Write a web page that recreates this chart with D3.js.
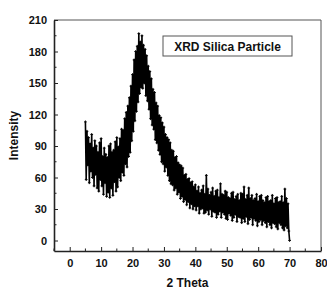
<!DOCTYPE html>
<html>
<head>
<meta charset="utf-8">
<script src="https://cdn.jsdelivr.net/npm/d3@7"></script>
<style>
  body { margin: 0; background: #fff; }
  text { font-family: Arial, 'Liberation Sans', sans-serif; font-weight: bold; fill: #111; }
</style>
</head>
<body>
<svg id="chart" width="327" height="291"></svg>
<script>
// measurement grid, 2 theta in degrees
const thetaStart = 5, thetaStep = 0.25

// intensity, 4 readings per degree
const intensity = [
  113, 58, 104, 72,   // 5
  98, 55, 92, 66,     // 6
  101, 60, 88, 52,    // 7
  95, 63, 90, 50,     // 8
  84, 47, 93, 58,     // 9
  97, 52, 80, 44,     // 10
  88, 55, 82, 42,     // 11
  79, 46, 90, 41,     // 12
  92, 50, 84, 43,     // 13
  86, 56, 94, 47,     // 14
  98, 51, 89, 60,     // 15
  97, 57, 106, 65,    // 16
  105, 62, 116, 73,   // 17
  122, 70, 128, 80,   // 18
  136, 84, 147, 95,   // 19
  158, 104, 172, 114, // 20
  180, 123, 185, 132, // 21
  197, 140, 189, 146, // 22
  195, 145, 186, 150, // 23
  182, 138, 176, 133, // 24
  166, 125, 161, 116, // 25
  154, 110, 144, 106, // 26
  141, 96, 131, 93,   // 27
  128, 86, 119, 82,   // 28
  117, 75, 112, 73,   // 29
  108, 66, 101, 70,   // 30
  98, 62, 96, 57,     // 31
  93, 54, 86, 53,     // 32
  85, 48, 79, 50,     // 33
  80, 44, 74, 46,     // 34
  72, 40, 71, 42,     // 35
  69, 37, 62, 39,     // 36
  63, 34, 58, 37,     // 37
  59, 31, 55, 35,     // 38
  56, 30, 51, 33,     // 39
  53, 29, 47, 33,     // 40
  51, 26, 45, 30,     // 41
  48, 31, 52, 26,     // 42
  44, 27, 62, 29,     // 43
  49, 25, 43, 30,     // 44
  46, 23, 50, 28,     // 45
  42, 27, 47, 22,     // 46
  48, 25, 41, 28,     // 47
  54, 22, 44, 27,     // 48
  43, 25, 47, 21,     // 49
  46, 20, 41, 26,     // 50
  40, 24, 45, 19,     // 51
  46, 22, 39, 25,     // 52
  42, 18, 44, 23,     // 53
  38, 22, 45, 17,     // 54
  44, 21, 51, 18,     // 55
  39, 23, 43, 16,     // 56
  50, 20, 40, 22,     // 57
  43, 15, 38, 21,     // 58
  40, 19, 44, 14,     // 59
  37, 18, 42, 20,     // 60
  43, 15, 38, 19,     // 61
  36, 17, 41, 13,     // 62
  42, 18, 37, 15,     // 63
  38, 12, 43, 17,     // 64
  35, 16, 40, 13,     // 65
  41, 11, 36, 17,     // 66
  37, 15, 42, 12,     // 67
  36, 10, 49, 14,     // 68
  40, 12, 35, 9,      // 69
  0                   // 70
]

const xTicks = [0, 10, 20, 30, 40, 50, 60, 70, 80]
const yTicks = [0, 30, 60, 90, 120, 150, 180, 210]
const xTitle = '2 Theta'
const yTitle = 'Intensity'
const legendLabel = 'XRD Silica Particle'

const margin = { top: 20, right: 6, bottom: 40, left: 54 }
const width = 327 - margin.left - margin.right
const height = 291 - margin.top - margin.bottom

const data = intensity.map((v, i) => ({ t: thetaStart + i * thetaStep, v }))

const x = d3.scaleLinear().domain([-5, 80]).range([0, width])
const y = d3.scaleLinear().domain([-10, 210]).range([height, 0])

const svg = d3.select('#chart')
const g = svg.append('g')
  .attr('transform', `translate(${margin.left},${margin.top})`)

// frame: top and right
g.append('path')
  .attr('d', `M0,0H${width}V${height}`)
  .attr('fill', 'none')
  .attr('stroke', '#555')
  .attr('stroke-width', 1)

// minor ticks
g.append('g').selectAll('line')
  .data(d3.range(-5, 80, 10))
  .enter().append('line')
    .attr('x1', d => x(d)).attr('x2', d => x(d))
    .attr('y1', height).attr('y2', height - 2.5)
    .attr('stroke', '#222')
g.append('g').selectAll('line')
  .data(d3.range(15, 210, 30))
  .enter().append('line')
    .attr('y1', d => y(d)).attr('y2', d => y(d))
    .attr('x1', 0).attr('x2', 2.5)
    .attr('stroke', '#222')

// axes, ticks pointing inward
const xAxis = g.append('g')
  .attr('transform', `translate(0,${height})`)
  .call(d3.axisBottom(x).tickValues(xTicks).tickSizeInner(-4).tickSizeOuter(0).tickPadding(8))
const yAxis = g.append('g')
  .call(d3.axisLeft(y).tickValues(yTicks).tickSizeInner(-4).tickSizeOuter(0).tickPadding(7))

;[xAxis, yAxis].forEach(a => {
  a.select('.domain').attr('stroke', '#222').attr('stroke-width', 1.6)
  a.selectAll('.tick line').attr('stroke', '#222')
  a.selectAll('.tick text')
    .attr('font-size', 11)
    .attr('font-family', 'Arial, Liberation Sans, sans-serif')
    .attr('font-weight', 'bold')
    .attr('fill', '#111')
})

// data line
const line = d3.line().x(d => x(d.t)).y(d => y(d.v))
g.append('path')
  .datum(data)
  .attr('d', line)
  .attr('fill', 'none')
  .attr('stroke', '#000')
  .attr('stroke-width', 1.6)
  .attr('stroke-linejoin', 'round')

// point markers
g.append('g').selectAll('path')
  .data(data)
  .enter().append('path')
    .attr('transform', d => `translate(${x(d.t)},${y(d.v)})`)
    .attr('d', 'M-1.4,0H1.4M0,-1.4V1.4')
    .attr('stroke', '#000')
    .attr('stroke-width', 0.9)

// axis titles
svg.append('text')
  .attr('x', margin.left + width / 2)
  .attr('y', 287)
  .attr('text-anchor', 'middle')
  .attr('font-size', 12)
  .text(xTitle)
svg.append('text')
  .attr('transform', `translate(18,${margin.top + height / 2}) rotate(-90)`)
  .attr('text-anchor', 'middle')
  .attr('font-size', 12)
  .text(yTitle)

// legend box
const legend = svg.append('g').attr('transform', 'translate(163,36)')
legend.append('rect')
  .attr('width', 129).attr('height', 20)
  .attr('fill', '#fff')
  .attr('stroke', '#555')
legend.append('text')
  .attr('x', 64.5).attr('y', 14.5)
  .attr('text-anchor', 'middle')
  .attr('font-size', 12)
  .text(legendLabel)
</script>
</body>
</html>
